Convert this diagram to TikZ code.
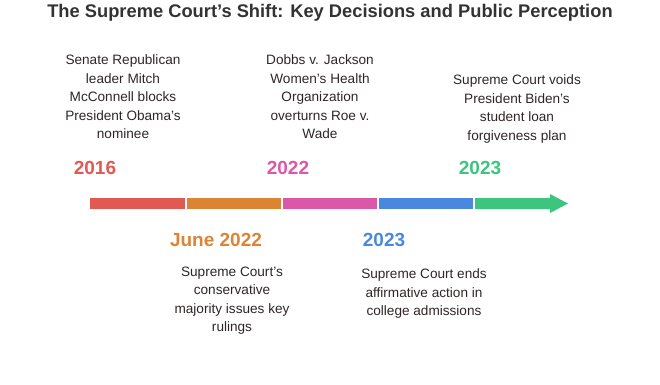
\documentclass[tikz,border=0pt]{standalone}
\usepackage{fontspec}
\setmainfont{Liberation Sans}
\usepackage{xcolor}
\usetikzlibrary{positioning}

\definecolor{segred}{HTML}{E05A52}
\definecolor{segorange}{HTML}{DD8434}
\definecolor{segpink}{HTML}{DB57A7}
\definecolor{segblue}{HTML}{4A88E0}
\definecolor{seggreen}{HTML}{3DC47E}
\definecolor{txtcol}{HTML}{2E2626}
\definecolor{ttlcol}{HTML}{333333}

\begin{document}
\begin{tikzpicture}[x=1pt,y=-1pt]
	\tikzstyle{year}=[font=\fontsize{19}{22}\selectfont\bfseries, inner sep=0pt]
	\tikzstyle{desc}=[align=center, text=txtcol, font=\fontsize{13.6}{18.5}\selectfont, inner sep=0pt]
	\useasboundingbox (0,0) rectangle (660,384);

	\node[font=\fontsize{18.3}{21}\selectfont\bfseries, text=ttlcol] (ttl) at (330,13) {The Supreme Court's Shift: Key Decisions and Public Perception};

	% the bar
	\foreach \a/\b/\c in {90/185/segred, 187/281/segorange, 283/377/segpink, 379/473/segblue}{
		\fill[\c] (\a,198) rectangle (\b,209);
	}
	\fill[seggreen] (475,198) -- (550,198) -- (550,194) -- (568,203.5) -- (550,213) -- (550,209) -- (475,209) -- cycle;

	% above
	\node[year, text=segred]   (y2016) at (95,168)  {2016};
	\node[year, text=segpink]  (y2022) at (288,168) {2022};
	\node[year, text=seggreen] (y2023) at (480,168) {2023};
	\node[desc] (d2016) at (123,97)  {Senate Republican\\leader Mitch\\McConnell blocks\\President Obama's\\nominee};
	\node[desc] (d2022) at (320,97)  {Dobbs v. Jackson\\Women’s Health\\Organization\\overturns Roe v.\\Wade};
	\node[desc] (d2023) at (517,109) {Supreme Court voids\\President Biden’s\\student loan\\forgiveness plan};

	% below
	\node[year, text=segorange] (yjune) at (216,240) {June 2022};
	\node[year, text=segblue]   (yaff)  at (384,240) {2023};
	\node[desc] (djune) at (232,300.5) {Supreme Court's\\conservative\\majority issues key\\rulings};
	\node[desc] (daff)  at (424,293.5) {Supreme Court ends\\affirmative action in\\college admissions};
\end{tikzpicture}
\end{document}
